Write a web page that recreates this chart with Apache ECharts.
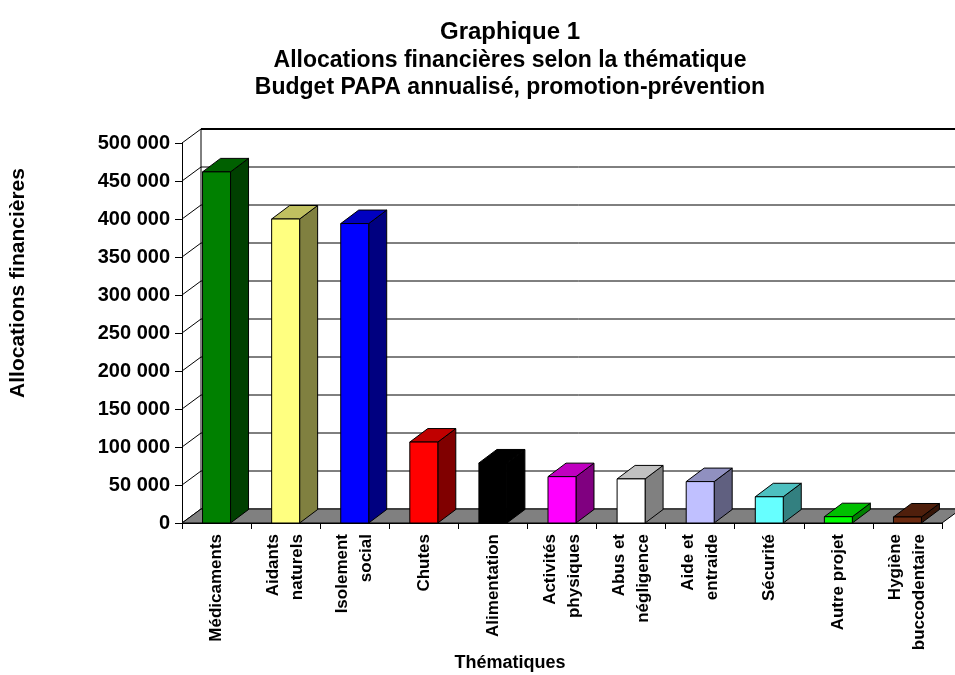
<!DOCTYPE html>
<html>
<head>
<meta charset="utf-8">
<script src="https://cdn.jsdelivr.net/npm/echarts@6/dist/echarts.min.js"></script>
<style>html,body{margin:0;padding:0;background:#fff}#c{width:955px;height:675px}</style>
</head>
<body>
<div id="c"></div>
<script>
var categories = ['Médicaments', 'Aidants\nnaturels', 'Isolement\nsocial', 'Chutes', 'Alimentation',
  'Activités\nphysiques', 'Abus et\nnégligence', 'Aide et\nentraide', 'Sécurité', 'Autre projet',
  'Hygiène\nbuccodentaire'];
var values = [462000, 400000, 394000, 106500, 79000, 61000, 58000, 54500, 34500, 8300, 7900];
var yTicks = [0, 50000, 100000, 150000, 200000, 250000, 300000, 350000, 400000, 450000, 500000];

var frontColors = ['#008000', '#FFFF80', '#0000FF', '#FF0000', '#000000', '#FF00FF', '#FFFFFF', '#C0C0FF', '#66FFFF', '#00FF00', '#6B2A10'];
var topColors   = ['#006000', '#C0C060', '#0000C0', '#C00000', '#000000', '#C000C0', '#C0C0C0', '#9090C0', '#4DC0C0', '#00C000', '#4F1F0C'];
var sideColors  = ['#004000', '#808040', '#000080', '#800000', '#000000', '#800080', '#808080', '#606080', '#338080', '#008000', '#361508'];

var FONT = '"Liberation Sans", Arial, sans-serif';
var WDX = 19, WDY = -14;   // wall depth offset
var BDX = 18, BDY = -13.5; // bar depth offset

function fmt(v) { return String(v).replace(/\B(?=(\d{3})+(?!\d))/g, ' '); }

var chart = echarts.init(document.getElementById('c'), null, {renderer: 'canvas'});
var option = {
  animation: false,
  backgroundColor: '#fff',
  grid: {left: 182, right: 13, top: 143, bottom: 152},
  xAxis: {
    type: 'category', data: categories, boundaryGap: true,
    axisLine: {show: true, lineStyle: {color: '#000', width: 1}},
    axisTick: {show: true, length: 6, lineStyle: {color: '#000'}},
    axisLabel: {rotate: 90, interval: 0, fontSize: 17, fontWeight: 'bold', color: '#000', fontFamily: FONT, margin: 11, lineHeight: 24}
  },
  yAxis: {
    type: 'value', min: 0, max: 500000, interval: 50000,
    axisLine: {show: true, lineStyle: {color: '#000', width: 1}},
    axisTick: {show: true, length: 7, lineStyle: {color: '#000'}},
    splitLine: {show: false},
    axisLabel: {fontSize: 20, fontWeight: 'bold', color: '#000', fontFamily: FONT, margin: 12, formatter: fmt}
  },
  graphic: [
    {type: 'text', x: 510, y: 32, style: {text: 'Graphique 1', font: 'bold 24px ' + FONT, fill: '#000', align: 'center', verticalAlign: 'middle'}},
    {type: 'text', x: 510, y: 61, style: {text: 'Allocations financières selon la thématique', font: 'bold 23px ' + FONT, fill: '#000', align: 'center', verticalAlign: 'middle'}},
    {type: 'text', x: 510, y: 88, style: {text: 'Budget PAPA annualisé, promotion-prévention', font: 'bold 23px ' + FONT, fill: '#000', align: 'center', verticalAlign: 'middle'}},
    {type: 'text', x: 18, y: 283, rotation: Math.PI / 2, style: {text: 'Allocations financières', font: 'bold 21px ' + FONT, fill: '#000', align: 'center', verticalAlign: 'middle'}},
    {type: 'text', x: 510, y: 663, style: {text: 'Thématiques', font: 'bold 18px ' + FONT, fill: '#000', align: 'center', verticalAlign: 'middle'}}
  ],
  series: [
    {
      type: 'custom', name: 'wall', z: 1, clip: false, silent: true,
      data: yTicks.map(function (v) { return [0, v]; }),
      renderItem: function (params, api) {
        var cs = params.coordSys;
        var y = api.coord([0, api.value(1)])[1];
        var x0 = cs.x, x1 = cs.x + cs.width;
        var children = [
          {type: 'line', shape: {x1: x0, y1: y, x2: x0 + WDX, y2: y + WDY}, style: {stroke: '#000', lineWidth: 1}},
          {type: 'line', shape: {x1: x0 + WDX, y1: y + WDY, x2: x1 + WDX, y2: y + WDY}, style: {stroke: '#000', lineWidth: 1}}
        ];
        if (params.dataIndex === 0) {
          children.push({type: 'line', shape: {x1: x0 + WDX, y1: cs.y + WDY, x2: x0 + WDX, y2: cs.y + cs.height + WDY}, style: {stroke: '#000', lineWidth: 1}});
          children.push({type: 'line', shape: {x1: x0 + WDX, y1: cs.y + WDY, x2: x1 + WDX, y2: cs.y + WDY}, style: {stroke: '#000', lineWidth: 2}});
        }
        return {type: 'group', children: children};
      }
    },
    {
      type: 'custom', name: 'floor', z: 2, clip: false, silent: true,
      data: [[0, 0]],
      renderItem: function (params, api) {
        var cs = params.coordSys;
        var yb = api.coord([0, 0])[1];
        var x0 = cs.x, x1 = cs.x + cs.width;
        return {type: 'polygon', shape: {points: [[x0, yb], [x1, yb], [x1 + WDX, yb + WDY], [x0 + WDX, yb + WDY]]},
          style: {fill: '#808080', stroke: '#000', lineWidth: 1}};
      }
    },
    {
      type: 'custom', name: 'bars', z: 3, clip: false,
      data: values.map(function (v, i) { return [i, v]; }),
      renderItem: function (params, api) {
        var i = api.value(0);
        var top = api.coord([i, api.value(1)]);
        var base = api.coord([i, 0]);
        var w = api.size([1, 0])[0] * 0.405;
        var xl = top[0] - w / 2, xr = top[0] + w / 2, yt = top[1], yb = base[1];
        var st = {stroke: '#000', lineWidth: 1, lineJoin: 'round'};
        return {type: 'group', children: [
          {type: 'polygon', shape: {points: [[xr, yb], [xr, yt], [xr + BDX, yt + BDY], [xr + BDX, yb + BDY]]},
            style: Object.assign({fill: sideColors[i]}, st)},
          {type: 'polygon', shape: {points: [[xl, yt], [xr, yt], [xr + BDX, yt + BDY], [xl + BDX, yt + BDY]]},
            style: Object.assign({fill: topColors[i]}, st)},
          {type: 'rect', shape: {x: xl, y: yt, width: w, height: yb - yt},
            style: Object.assign({fill: frontColors[i]}, st)}
        ]};
      }
    }
  ]
};
chart.setOption(option);
</script>
</body>
</html>
